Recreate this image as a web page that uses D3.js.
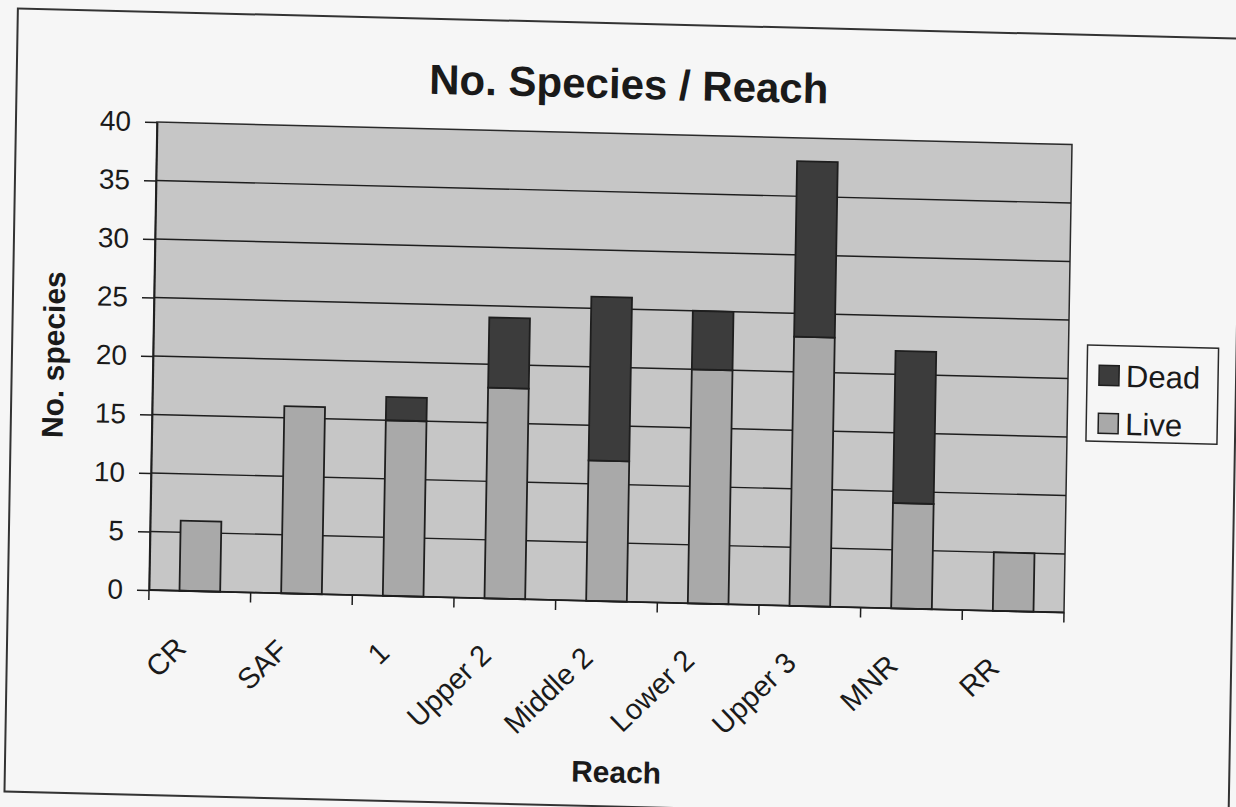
<!DOCTYPE html>
<html lang="en">
<head>
<meta charset="utf-8">
<title>No. Species / Reach</title>
<script src="https://cdn.jsdelivr.net/npm/d3@7"></script>
<style>
  body { margin: 0; background: #f6f6f6; }
  svg { display: block; }
  text { font-family: "Liberation Sans", Arial, sans-serif; fill: #1a1a1a; }
</style>
</head>
<body>
<script>
// data
var reaches = ["CR", "SAF", "1", "Upper 2", "Middle 2", "Lower 2", "Upper 3", "MNR", "RR"];
var live = [6, 16, 15, 18, 12, 20, 23, 9, 5];
var dead = [0, 0, 2, 6, 14, 5, 15, 13, 0];
var yTicks = [0, 5, 10, 15, 20, 25, 30, 35, 40];
var seriesNames = ["Live", "Dead"];
var legendOrder = ["Dead", "Live"];

var w = 1236, h = 807;
var plot = {left: 157, top: 122, width: 915, height: 468};

var colors = {Live: "#a9a9a9", Dead: "#3c3c3c"};

var svg = d3.select("body").append("svg")
    .attr("width", w)
    .attr("height", h);

// the scan is slightly tilted, so the whole chart sits in a small shear/rotation
var g = svg.append("g")
    .attr("transform", "translate(157,122) matrix(1,0.0246,-0.0171,1,0,0) translate(-157,-122)");

// outer chart frame
g.append("rect")
    .attr("x", 16).attr("y", 12)
    .attr("width", 1224).attr("height", 783)
    .attr("fill", "none")
    .attr("stroke", "#333")
    .attr("stroke-width", 2);

var x = d3.scaleBand()
    .domain(reaches)
    .range([plot.left, plot.left + plot.width])
    .paddingInner(0.6)
    .paddingOuter(0.3);

var y = d3.scaleLinear()
    .domain([0, 40])
    .range([plot.top + plot.height, plot.top]);

// plot area
g.append("rect")
    .attr("x", plot.left).attr("y", plot.top)
    .attr("width", plot.width).attr("height", plot.height)
    .attr("fill", "#c6c6c6")
    .attr("stroke", "#2a2a2a")
    .attr("stroke-width", 1.5);

// gridlines
g.selectAll(".grid")
    .data(yTicks.filter(function(d) { return d > 0 && d < 40; }))
    .enter().append("line")
    .attr("x1", plot.left).attr("x2", plot.left + plot.width)
    .attr("y1", function(d) { return y(d); })
    .attr("y2", function(d) { return y(d); })
    .attr("stroke", "#1e1e1e")
    .attr("stroke-width", 1.4);

// stacked bars
var rows = reaches.map(function(r, i) { return {reach: r, Live: live[i], Dead: dead[i]}; });
var stacked = d3.stack().keys(seriesNames)(rows);

g.selectAll(".series")
    .data(stacked)
    .enter().append("g")
    .attr("fill", function(d) { return colors[d.key]; })
    .selectAll("rect")
    .data(function(d) { return d.filter(function(p) { return p[1] > p[0]; }); })
    .enter().append("rect")
    .attr("x", function(d) { return x(d.data.reach); })
    .attr("y", function(d) { return y(d[1]); })
    .attr("width", x.bandwidth())
    .attr("height", function(d) { return y(d[0]) - y(d[1]); })
    .attr("stroke", "#1e1e1e")
    .attr("stroke-width", 1.8);

// y axis
var yAxis = g.append("g")
    .attr("transform", "translate(" + plot.left + ",0)")
    .call(d3.axisLeft(y).tickValues(yTicks).tickSize(12).tickPadding(14).tickSizeOuter(0));
yAxis.select(".domain").attr("stroke", "#1e1e1e").attr("stroke-width", 1.8);
yAxis.selectAll(".tick line").attr("stroke", "#1e1e1e").attr("stroke-width", 1.5);
yAxis.selectAll(".tick text")
    .attr("font-size", 28)
    .attr("font-family", "Liberation Sans, Arial, sans-serif")
    .attr("fill", "#1a1a1a");

// x axis: ticks at category boundaries
var xAxisY = y(0);
var bounds = d3.range(reaches.length + 1).map(function(i) { return plot.left + i * plot.width / reaches.length; });
g.append("line")
    .attr("x1", plot.left).attr("x2", plot.left + plot.width)
    .attr("y1", xAxisY).attr("y2", xAxisY)
    .attr("stroke", "#1e1e1e").attr("stroke-width", 1.8);
g.selectAll(".xtick")
    .data(bounds)
    .enter().append("line")
    .attr("x1", function(d) { return d; }).attr("x2", function(d) { return d; })
    .attr("y1", xAxisY).attr("y2", xAxisY + 10)
    .attr("stroke", "#1e1e1e").attr("stroke-width", 1.5);

g.selectAll(".xlabel")
    .data(reaches)
    .enter().append("text")
    .attr("text-anchor", "end")
    .attr("font-size", 29)
    .attr("transform", function(d) {
        var cx = x(d) + x.bandwidth() / 2 - 11;
        return "translate(" + cx + "," + (xAxisY + 59) + ") rotate(-45)";
    })
    .text(function(d) { return d; });

// titles
g.append("text")
    .attr("x", 628).attr("y", 87)
    .attr("text-anchor", "middle")
    .attr("font-size", 42)
    .attr("font-weight", "bold")
    .text("No. Species / Reach");

g.append("text")
    .attr("x", 627).attr("y", 771)
    .attr("text-anchor", "middle")
    .attr("font-size", 30)
    .attr("font-weight", "bold")
    .text("Reach");

g.append("text")
    .attr("transform", "translate(68,357) rotate(-90)")
    .attr("text-anchor", "middle")
    .attr("font-size", 30)
    .attr("font-weight", "bold")
    .text("No. species");

// legend
var legend = g.append("g").attr("transform", "translate(1091,322)");
legend.append("rect")
    .attr("width", 131).attr("height", 96)
    .attr("fill", "#f6f6f6")
    .attr("stroke", "#2a2a2a")
    .attr("stroke-width", 1.5);
var item = legend.selectAll(".item")
    .data(legendOrder)
    .enter().append("g")
    .attr("transform", function(d, i) { return "translate(12," + (20 + i * 48) + ")"; });
item.append("rect")
    .attr("width", 20).attr("height", 20)
    .attr("fill", function(d) { return colors[d]; })
    .attr("stroke", "#1e1e1e")
    .attr("stroke-width", 1.5);
item.append("text")
    .attr("x", 27).attr("y", 21)
    .attr("font-size", 31)
    .text(function(d) { return d; });
</script>
</body>
</html>
